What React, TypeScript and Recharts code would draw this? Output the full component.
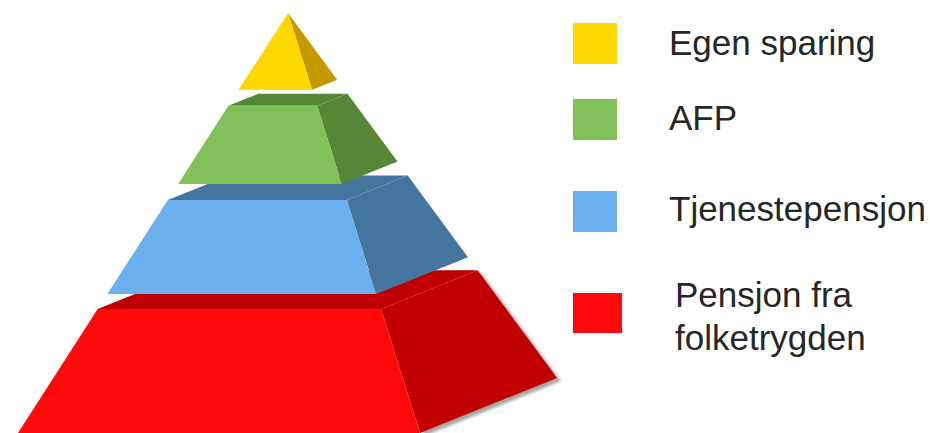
import React from "react";
import { BarChart, Bar, XAxis, YAxis, Legend } from "recharts";

// tiers from top of the pyramid to the base
const tiers = ["Egen sparing", "AFP", "Tjenestepensjon", "Pensjon fra folketrygden"];
const tierStart = [0, 22.1, 44.5, 70.5];
const tierEnd = [18.3, 40.7, 66.9, 100];
const frontColors = ["#FFD800", "#82C15A", "#6AAFEE", "#FF0A0A"];
const shadeColors = ["#C49A00", "#558737", "#44759F", "#C00000"];

const W = 930;
const H = 433;
const TOP = 13;

// pyramid outline: horizontal spread of each base corner from the apex, in px
const APEX_X = 288;
const FRONT_LEFT = -270;
const FRONT_RIGHT = 132;
const BACK_RIGHT = 269;
const BACK_LEFT = -133;
const BACK_RISE = 55;

// draw the base first so upper tiers sit on top of the lower top faces
const tableData = tiers
  .map((name, i) => ({
    name,
    span: [tierStart[i], tierEnd[i]],
    front: frontColors[i],
    shade: shadeColors[i],
    base: i === tiers.length - 1,
  }))
  .reverse();

const plotH = H - TOP;

function corner(f: number, dx: number, back: boolean) {
  const x = APEX_X + dx * f;
  const y = TOP + f * (back ? plotH - BACK_RISE : plotH);
  return `${x},${y}`;
}

function Tier(props: any) {
  const { y, height, payload } = props;
  const y0 = Math.min(y, y + height);
  const y1 = Math.max(y, y + height);
  const f0 = (y0 - TOP) / plotH;
  const f1 = (y1 - TOP) / plotH;

  const fl0 = corner(f0, FRONT_LEFT, false);
  const fr0 = corner(f0, FRONT_RIGHT, false);
  const br0 = corner(f0, BACK_RIGHT, true);
  const bl0 = corner(f0, BACK_LEFT, true);
  const fl1 = corner(f1, FRONT_LEFT, false);
  const fr1 = corner(f1, FRONT_RIGHT, false);
  const br1 = corner(f1, BACK_RIGHT, true);

  return (
    <g>
      {payload.base && (
        <>
          <defs>
            <filter id="baseShadow" x="-10%" y="-10%" width="130%" height="130%">
              <feGaussianBlur stdDeviation="1.6" />
            </filter>
          </defs>
          <polygon
            points={`${fr0} ${br0} ${br1} ${fr1}`}
            fill="#7f7f7f"
            opacity={0.7}
            transform="translate(4,3)"
            filter="url(#baseShadow)"
          />
        </>
      )}
      <polygon points={`${fl0} ${fr0} ${br0} ${bl0}`} fill={payload.shade} />
      <polygon points={`${fr0} ${br0} ${br1} ${fr1}`} fill={payload.shade} />
      <polygon points={`${fl0} ${fr0} ${fr1} ${fl1}`} fill={payload.front} />
    </g>
  );
}

const squareTop = [23, 99, 191, 293];
const textTop = [25, 100, 191, 273];

function TierLegend() {
  return (
    <div
      style={{
        position: "relative",
        width: 365,
        height: H,
        fontFamily: "'Liberation Sans', Arial, sans-serif",
        fontSize: 35,
        color: "#262626",
      }}
    >
      {tiers.map((name, i) => {
        const last = i === tiers.length - 1;
        return (
          <React.Fragment key={name}>
            <div
              style={{
                position: "absolute",
                left: 8,
                top: squareTop[i],
                width: last ? 49 : 44,
                height: last ? 40 : 41,
                background: frontColors[i],
              }}
            />
            <div
              style={{
                position: "absolute",
                left: last ? 110 : 104,
                top: textTop[i],
                width: last ? 200 : 300,
                lineHeight: last ? "43px" : "35px",
                whiteSpace: last ? "normal" : "nowrap",
              }}
            >
              {last ? (
                <>
                  Pensjon fra
                  <br />
                  folketrygden
                </>
              ) : (
                name
              )}
            </div>
          </React.Fragment>
        );
      })}
    </div>
  );
}

export default function App() {
  return (
    <div style={{ position: "absolute", left: 0, top: 0, width: W, height: H, background: "#fff" }}>
      <BarChart width={W} height={H} data={tableData} margin={{ top: TOP, right: 0, bottom: 0, left: 0 }}>
        <XAxis dataKey="name" hide />
        <YAxis type="number" domain={[0, 100]} reversed hide />
        <Legend
          layout="vertical"
          align="right"
          verticalAlign="top"
          content={() => <TierLegend />}
          wrapperStyle={{ left: 565, right: "auto", top: 0, width: 365, height: H }}
        />
        <Bar dataKey="span" shape={Tier} isAnimationActive={false} />
      </BarChart>
    </div>
  );
}
